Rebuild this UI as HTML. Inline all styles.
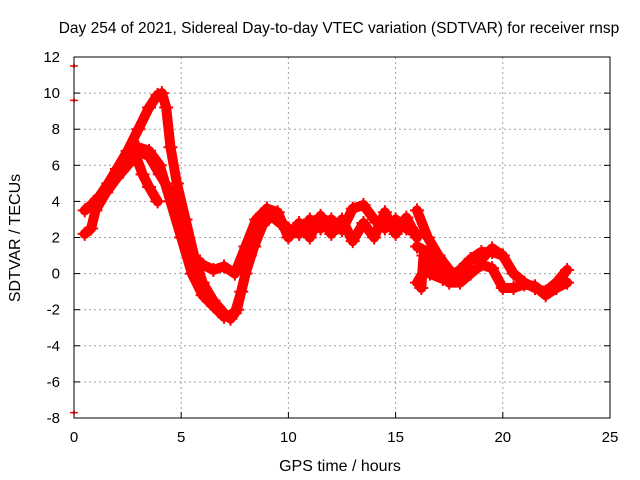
<!DOCTYPE html>
<html><head><meta charset="utf-8"><style>
body{margin:0;background:#fff}
svg{display:block;font-family:"Liberation Sans",sans-serif}
</style></head><body>
<svg id="chart" width="640" height="480">
<rect width="640" height="480" fill="#fff"/>
<g id="grid"></g><g id="marks"></g><g id="axes"></g>
<text x="339" y="33" font-size="15.5" text-anchor="middle">Day 254 of 2021, Sidereal Day-to-day VTEC variation (SDTVAR) for receiver rnsp</text>
<text x="340" y="471" font-size="16" text-anchor="middle">GPS time / hours</text>
<text x="20" y="238" font-size="16" text-anchor="middle" transform="rotate(-90 20 238)">SDTVAR / TECUs</text>
</svg>
<script>
const xTicks=[0,5,10,15,20,25];
const yTicks=[-8,-6,-4,-2,0,2,4,6,8,10,12];
const seriesA=[[0.5,3.5],[0.8,3.8],[1.2,4.3],[1.6,5.0],[2.0,5.8],[2.5,6.8],[3.0,8.0],[3.5,9.2],[3.9,9.9],[4.1,10.0],[4.3,9.2],[4.5,7.0],[4.8,5.0],[5.2,3.0],[5.6,1.0],[6.0,-0.5],[6.5,-1.5],[7.0,-2.2],[7.3,-2.5],[7.6,-2.0],[8.0,0],[8.4,1.5],[8.8,2.7],[9.2,3.2],[9.6,2.8],[10.0,2.5],[10.5,2.2],[11.0,3.0],[11.5,2.5],[12,3.0],[12.5,2.4],[13,3.6],[13.5,3.8],[14,3.0],[14.5,2.5],[15,3.0],[15.5,2.5],[16,2.2]];
const seriesB=[[0.5,2.2],[0.8,2.5],[1.0,3.5],[1.5,4.5],[2.0,5.3],[2.5,6.0],[3.0,6.8],[3.5,6.5],[4.0,5.5],[4.5,4.5],[5.0,3.0],[5.5,1.0],[6.0,0.5],[6.5,0.2],[7.0,0.4],[7.5,0],[8.0,1.5],[8.5,3.0],[9.0,3.6],[9.5,3.0],[10,2.5]];
const seriesC=[[2.0,5.5],[2.5,6.5],[2.8,6.8],[3.2,5.5],[3.5,4.8],[3.9,4.0]];
const seriesD=[[3.0,7.0],[3.5,6.8],[4.0,6.0],[4.5,4.0],[5.0,2.0],[5.5,0],[6.0,-1.2],[6.5,-1.8],[7.0,-2.4],[7.5,-2.2],[7.8,-1.0],[8.2,1.0],[8.6,3.0],[9.0,3.6],[9.5,3.4],[10,2.0],[10.5,2.8],[11,2.0],[11.5,3.2],[12,2.2],[12.5,3.0],[13,1.8],[13.5,2.8],[14,2.0],[14.5,3.4],[15,2.2],[15.5,3.1],[16,2.0]];
const seriesE=[[16,3.5],[16.5,2.0],[17,1.0],[17.5,0.2],[18,-0.2],[18.5,0.8],[19,1.2],[19.5,1.2],[20,1.0],[20.5,0],[21,-0.5],[21.5,-0.8],[22,-1.0],[22.5,-0.5],[23,0.2]];
const seriesF=[[16,-0.5],[16.5,0.5],[17,0],[17.5,-0.5],[18,-0.5],[18.5,0],[19,0.5],[19.5,0.3],[20,-0.8],[20.5,-0.8],[21,-0.6],[21.5,-0.7],[22,-1.2],[22.5,-0.8],[23,-0.5]];
const seriesG=[[16,1.5],[16.5,1.2],[17,0.5],[17.5,-0.2],[18,0.2],[18.5,0.8],[19,0.8],[19.5,1.4],[20,1.0]];
const seriesH=[[16.2,-0.8],[16.3,1.0],[16.6,0.0],[17.2,-0.3]];
const outliers=[[0,11.5],[0,9.6],[0,-7.7]];
const allSeries=[seriesA,seriesB,seriesC,seriesD,seriesE,seriesF,seriesG,seriesH];
const X0=74,X1=610,Y0=418,Y1=57;
const sx=v=>X0+(v-0)/(25-0)*(X1-X0);
const sy=v=>Y0-(v+8)/(20)*(Y0-Y1);
const NS='http://www.w3.org/2000/svg';
const mk=(t,a)=>{const e=document.createElementNS(NS,t);for(const k in a)e.setAttribute(k,a[k]);return e;};
const grid=document.getElementById('grid'),axes=document.getElementById('axes'),marks=document.getElementById('marks');
xTicks.forEach(t=>{const x=sx(t);
 if(t>0&&t<25){const l=mk('line',{x1:x,x2:x,y1:Y1,y2:Y0,stroke:'#a0a0a0','stroke-dasharray':'2,3'});
 
 grid.appendChild(l);}
 const tk=mk('line',{x1:x,x2:x,y1:Y0,y2:Y0-6,stroke:'#000'});axes.appendChild(tk);
 const tx=mk('text',{x:x,y:Y0+24,'font-size':15,'text-anchor':'middle'});tx.textContent=t;
 
 axes.appendChild(tx);});
yTicks.forEach(t=>{const y=sy(t);
 if(t>-8&&t<12){const l=mk('line',{x1:X0,x2:X1,y1:y,y2:y,stroke:'#a0a0a0','stroke-dasharray':'2,3'});
 
 grid.appendChild(l);}
 const tk=mk('line',{x1:X0,x2:X0+6,y1:y,y2:y,stroke:'#000'});axes.appendChild(tk);
 const tk2=mk('line',{x1:X1,x2:X1-6,y1:y,y2:y,stroke:'#000'});axes.appendChild(tk2);
 const tx=mk('text',{x:X0-14,y:y+5,'font-size':15,'text-anchor':'end'});tx.textContent=t;
 
 axes.appendChild(tx);});
const frame=mk('rect',{x:X0,y:Y1,width:X1-X0,height:Y0-Y1,fill:'none',stroke:'#000'});

axes.appendChild(frame);
allSeries.forEach((s,i)=>{
 const p=mk('polyline',{points:s.map(d=>sx(d[0])+','+sy(d[1])).join(' '),fill:'none',stroke:'#f00','stroke-width':10,'stroke-linejoin':'round','stroke-linecap':'round'});
 
 marks.appendChild(p);
 s.forEach(d=>{const x=sx(d[0]),y=sy(d[1]);
  const m=mk('path',{d:`M${x-7},${y}h14M${x},${y-7}v14`,stroke:'#f00','stroke-width':2});
  
  marks.appendChild(m);});
});
outliers.forEach(d=>{const x=sx(d[0]),y=sy(d[1]);
 const m=mk('path',{d:`M${x-4},${y}h8M${x},${y-2}v4`,stroke:'#f00','stroke-width':1.5});
 
 marks.appendChild(m);});
</script>
</body></html>
